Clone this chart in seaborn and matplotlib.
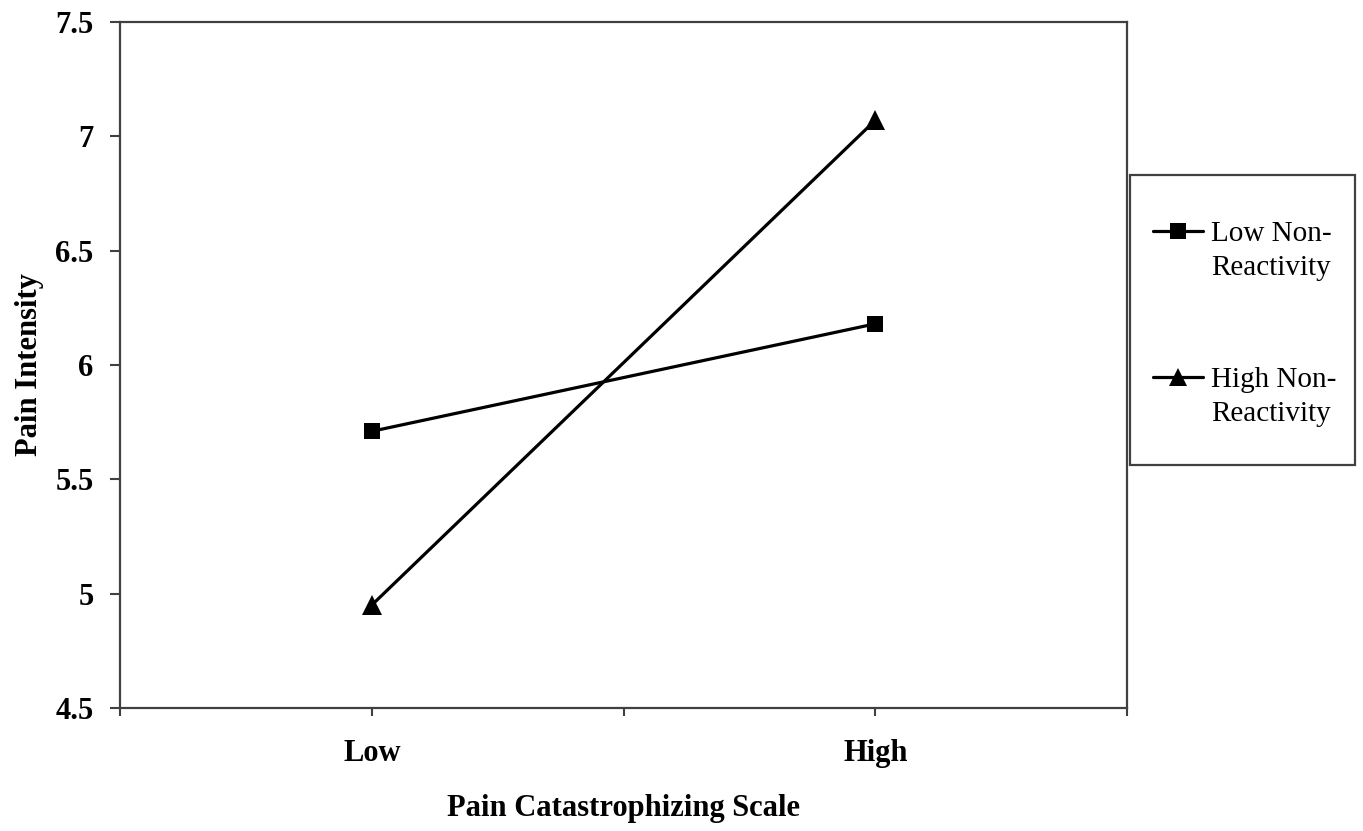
import pandas as pd
import numpy as np
import seaborn as sns
import matplotlib.pyplot as plt
from matplotlib.lines import Line2D
from matplotlib.patches import Rectangle
from matplotlib.text import Annotation

# values
pcs_levels = ["Low", "High"]
low_nonreact = [5.71, 6.18]
high_nonreact = [4.95, 7.07]
series_names = ["Low Non-Reactivity", "High Non-Reactivity"]
legend_first = ["Low Non-", "High Non-"]
legend_second = ["Reactivity", "Reactivity"]
y_ticks = [4.5, 5, 5.5, 6, 6.5, 7, 7.5]
y_tick_labels = ["4.5", "5", "5.5", "6", "6.5", "7", "7.5"]

df = pd.DataFrame({
    "pcs": pcs_levels * 2,
    "pain": low_nonreact + high_nonreact,
    "group": [series_names[0]] * 2 + [series_names[1]] * 2,
})

sns.set_theme(style="white")
plt.rcParams["font.family"] = ["Liberation Serif", "DejaVu Serif"]
plt.rcParams["text.color"] = "black"
plt.rcParams["axes.labelcolor"] = "black"
plt.rcParams["xtick.color"] = "black"
plt.rcParams["ytick.color"] = "black"

fig = plt.figure(figsize=(13.63, 8.31), dpi=100)
ax = fig.add_axes([120 / 1363, 1 - 708 / 831, 1007 / 1363, 686 / 831])

sns.lineplot(data=df, x="pcs", y="pain", hue="group", style="group",
             markers={series_names[0]: "s", series_names[1]: "^"},
             dashes=False, palette=["black", "black"], linewidth=2.3,
             markersize=12, markeredgewidth=0, legend=False, ax=ax, sort=False)
# triangles a bit bigger, as in the original
ax.lines[1].set_markersize(14)

ax.set_xlim(-0.5, 1.5)
ax.set_ylim(4.5, 7.5)
ax.set_xticks([-0.5, 0, 0.5, 1, 1.5])
ax.set_xticklabels(["", "Low", "", "High", ""])
ax.set_yticks(y_ticks)
ax.set_yticklabels(y_tick_labels)

for lab in ax.get_xticklabels() + ax.get_yticklabels():
    lab.set_fontweight("bold")
    lab.set_fontsize(22)
ax.tick_params(axis="x", direction="out", length=6, width=1.5, color="#404040", pad=16)
ax.tick_params(axis="y", direction="out", length=7, width=1.5, color="#404040", pad=12)
ax.tick_params(bottom=True, left=True)

ax.set_xlabel("Pain Catastrophizing Scale", fontsize=22, fontweight="bold", labelpad=19)
ax.set_ylabel("Pain Intensity", fontsize=22, fontweight="bold", labelpad=8)

for s in ax.spines.values():
    s.set_color("#404040")
    s.set_linewidth(1.6)

# legend box (drawn separately so the padding can differ from the text layout)
fig.patches.append(Rectangle((1130 / 1363, 1 - 465 / 831), 225 / 1363, 290 / 831,
                             transform=fig.transFigure, fill=False,
                             edgecolor="#404040", lw=1.6))

handles = [
    Line2D([], [], color="black", lw=2.3, marker="s", markersize=11, markeredgewidth=0),
    Line2D([], [], color="black", lw=2.3, marker="^", markersize=13, markeredgewidth=0),
]
leg = fig.legend(handles, legend_first, loc="upper left",
                 bbox_to_anchor=(1153 / 1363, 1 - 221 / 831),
                 frameon=False, fontsize=21, handlelength=1.7, handletextpad=0.3,
                 labelspacing=4.1, borderpad=0, borderaxespad=0)
# second line of each label, hung under the first one
for t, second in zip(leg.get_texts(), legend_second):
    ann = Annotation(second, xy=(0, 0), xycoords=t, xytext=(0, -24),
                     textcoords="offset points", fontsize=21, ha="left", va="bottom",
                     annotation_clip=False)
    ann.set_zorder(10)
    fig.add_artist(ann)

fig.savefig("out.png", dpi=100)
